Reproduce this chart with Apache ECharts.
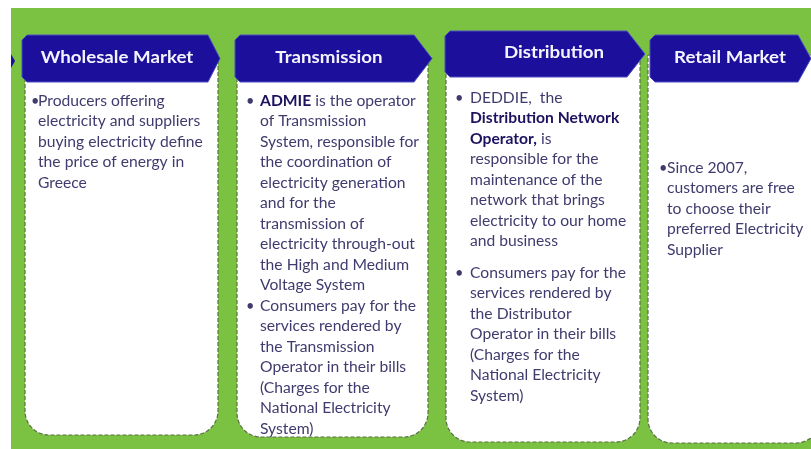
<!DOCTYPE html>
<html>
<head>
<meta charset="utf-8">
<script src="https://cdn.jsdelivr.net/npm/echarts@6/dist/echarts.min.js"></script>
<style>
  html, body { margin: 0; padding: 0; background: #fff; }
  #chart { width: 811px; height: 449px; }
</style>
</head>
<body>
<div id="chart"></div>
<script>
// panel titles
const titles = ['Wholesale Market', 'Transmission', 'Distribution', 'Retail Market'];

// bullet texts per panel ({b|...} = bold part)
const wholesaleItems = [
  'Producers offering\nelectricity and suppliers\nbuying electricity define\nthe price of energy in\nGreece'
];
const transmissionItems = [
  '{b|ADMIE} is the operator\nof Transmission\nSystem, responsible for\nthe coordination of\nelectricity generation\nand for the\ntransmission of\nelectricity through-out\nthe High and Medium\nVoltage System',
  'Consumers pay for the\nservices rendered by\nthe Transmission\nOperator in their bills\n(Charges for the\nNational Electricity\nSystem)'
];
const distributionItems = [
  'DEDDIE,  the\n{b|Distribution Network}\n{b|Operator,} is\nresponsible for the\nmaintenance of the\nnetwork that brings\nelectricity to our home\nand business',
  'Consumers pay for the\nservices rendered by\nthe Distributor\nOperator in their bills\n(Charges for the\nNational Electricity\nSystem)'
];
const retailItems = [
  'Since 2007,\ncustomers are free\nto choose their\npreferred Electricity\nSupplier'
];
const panelItems = [wholesaleItems, transmissionItems, distributionItems, retailItems];

// layout of each panel (pixels)
const layout = [
  { hx: 22, hy: 35, hw: 186, hh: 47, tip: 12, tx: 117, bx: 25, br: 218, bb: 435, bulletX: 31, textX: 38, itemY: [91] },
  { hx: 235, hy: 35, hw: 179, hh: 47, tip: 18, tx: 329, bx: 237, br: 428, bb: 437, bulletX: 246, textX: 260, itemY: [91, 296] },
  { hx: 445, hy: 31, hw: 182, hh: 46, tip: 18, tx: 554, bx: 446, br: 640, bb: 442, bulletX: 455, textX: 470, itemY: [88, 263] },
  { hx: 650, hy: 35, hw: 148, hh: 47, tip: 13, tx: 730, bx: 648, br: 820, bb: 443, bulletX: 659, textX: 667, itemY: [158] }
];

const navy = '#1b0f9c';
const bodyColor = '#3f3b6e';
const boldColor = '#1c1260';
const lh = 20.5;
const bodyFont = '14.5px Lato, sans-serif';
const stretch = 1.08; // source text is a bit wide

const chart = echarts.init(document.getElementById('chart'));
const elements = [];

// green background
elements.push({
  type: 'rect', shape: { x: 11, y: 8, width: 800, height: 441 },
  style: { fill: '#7cc242' }, silent: true
});
// tip of an arrow coming from the left
elements.push({
  type: 'polygon', shape: { points: [[11, 54], [15, 61], [11, 68]] },
  style: { fill: navy }
});

layout.forEach((p, i) => {
  // dashed white box
  elements.push({
    type: 'rect',
    shape: { x: p.bx, y: p.hy + 20, width: p.br - p.bx, height: p.bb - p.hy - 20, r: [0, 0, 24, 24] },
    style: { fill: '#fff', stroke: '#5b6f48', lineWidth: 1.2, lineDash: [4, 2] }
  });
  // arrow header
  const x0 = p.hx, y0 = p.hy, x1 = p.hx + p.hw, y1 = p.hy + p.hh;
  elements.push({
    type: 'polygon',
    shape: { points: [[x0 + 5, y0], [x1, y0], [x1 + p.tip, (y0 + y1) / 2], [x1, y1], [x0 + 5, y1], [x0, y1 - 5], [x0, y0 + 5]] },
    style: { fill: navy, stroke: '#4a4fc0', lineWidth: 1 }
  });
  elements.push({
    type: 'text',
    x: p.tx, y: (y0 + y1) / 2 - 1, scaleX: 1.1,
    style: {
      text: titles[i], x: 0, y: 0,
      align: 'center', verticalAlign: 'middle',
      font: 'bold 17px Lato, sans-serif', fill: '#f4f4ff'
    }
  });
  // bullets
  panelItems[i].forEach((txt, k) => {
    const top = p.itemY[k];
    elements.push({
      type: 'text',
      x: p.bulletX, y: top,
      style: { text: '•', x: 0, y: 0, verticalAlign: 'top', font: bodyFont, fill: bodyColor, lineHeight: lh }
    });
    elements.push({
      type: 'text',
      x: p.textX, y: top, scaleX: stretch,
      style: {
        text: txt, x: 0, y: 0, verticalAlign: 'top',
        font: bodyFont, fill: bodyColor, lineHeight: lh,
        rich: {
          b: { font: 'bold 14.5px Lato, sans-serif', fill: boldColor, lineHeight: lh }
        }
      }
    });
  });
});

chart.setOption({
  animation: false,
  graphic: { elements: elements }
});
</script>
</body>
</html>
